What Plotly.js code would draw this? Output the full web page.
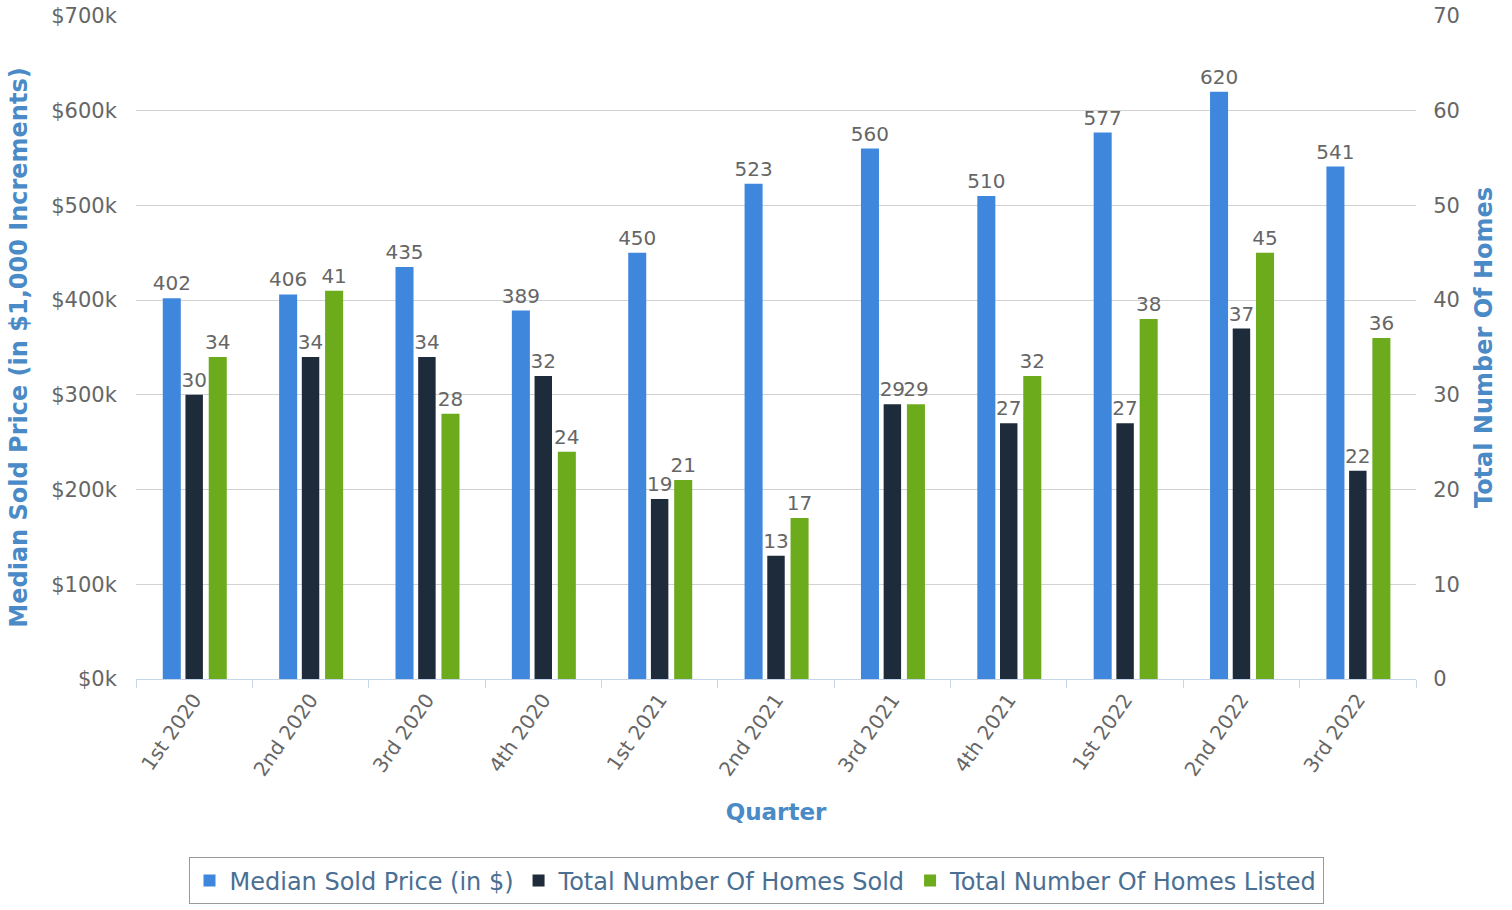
<!DOCTYPE html>
<html><head><meta charset="utf-8">
<script src="https://cdn.plot.ly/plotly-3.0.1.min.js"></script>
<style>html,body{margin:0;padding:0;background:#fff}#chart{width:1512px;height:910px}</style>
</head><body><div id="chart"></div>
<script>
const quarters = ["1st 2020","2nd 2020","3rd 2020","4th 2020","1st 2021","2nd 2021","3rd 2021","4th 2021","1st 2022","2nd 2022","3rd 2022"];
const medianPrice = [402,406,435,389,450,523,560,510,577,620,541];
const homesSold = [30,34,34,32,19,13,29,27,27,37,22];
const homesListed = [34,41,28,24,21,17,29,32,38,45,36];

const font = "DejaVu Sans, Verdana, sans-serif";
const lbl = {family: font, size: 20, color: "#666"};
const common = {type:"bar", textposition:"outside", cliponaxis:false, constraintext:"none", textfont:lbl, hoverinfo:"x+y+name"};
const traces = [
  Object.assign({}, common, {name:"Median Sold Price (in $)", x:quarters, y:medianPrice, yaxis:"y",
   marker:{color:"#3f87dd"}, width:0.155, offset:-0.27, text:medianPrice.map(String)}),
  Object.assign({}, common, {name:"Total Number Of Homes Sold", x:quarters, y:homesSold, yaxis:"y2",
   marker:{color:"#1e2b3a"}, width:0.15, offset:-0.075, text:homesSold.map(String)}),
  Object.assign({}, common, {name:"Total Number Of Homes Listed", x:quarters, y:homesListed, yaxis:"y2",
   marker:{color:"#6cab1c"}, width:0.155, offset:0.125, text:homesListed.map(String)})
];
const titleFont = {family:font, size:24, color:"#4a8ac6"};
const layout = {
  width:1512, height:910,
  margin:{l:136, r:96, t:16, b:231},
  paper_bgcolor:"#fff", plot_bgcolor:"#fff",
  font:{family:font, color:"#666", size:20},
  showlegend:true,
  legend:{orientation:"h", x:0.5, xref:"container", xanchor:"center", y:0.032, yref:"container", yanchor:"middle",
    bordercolor:"#999", borderwidth:1, font:{family:font, size:24, color:"#4a6f93"},
    itemwidth:30, traceorder:"normal"},
  xaxis:{type:"category", automargin:false, tickangle:-55, tickfont:{family:font, size:20, color:"#666"},
    showline:true, linecolor:"#c6d6e8", linewidth:1, ticks:"outside", ticklen:8, tickcolor:"#c6d6e8",
    tickson:"boundaries", showgrid:false,
    title:{text:"<b>Quarter</b>", font:{family:font, size:23, color:"#4a8ac6"}, standoff:24}},
  yaxis:{range:[0,700], dtick:100, tickprefix:"$", ticksuffix:"k", automargin:false,
    ticks:"outside", ticklen:14, tickcolor:"rgba(0,0,0,0)",
    gridcolor:"#d2d2d2", zeroline:false, tickfont:{family:font, size:21, color:"#666"},
    title:{text:"<b>Median Sold Price (in $1,000 Increments)</b>", font:titleFont, standoff:16}},
  yaxis2:{range:[0,70], dtick:10, overlaying:"y", side:"right", showgrid:false, zeroline:false, automargin:false,
    ticks:"outside", ticklen:12, tickcolor:"rgba(0,0,0,0)", tickfont:{family:font, size:21, color:"#666"},
    title:{text:"<b>Total Number Of Homes</b>", font:titleFont, standoff:16}}
};
Plotly.newPlot("chart", traces, layout, {displayModeBar:false});
</script></body></html>
